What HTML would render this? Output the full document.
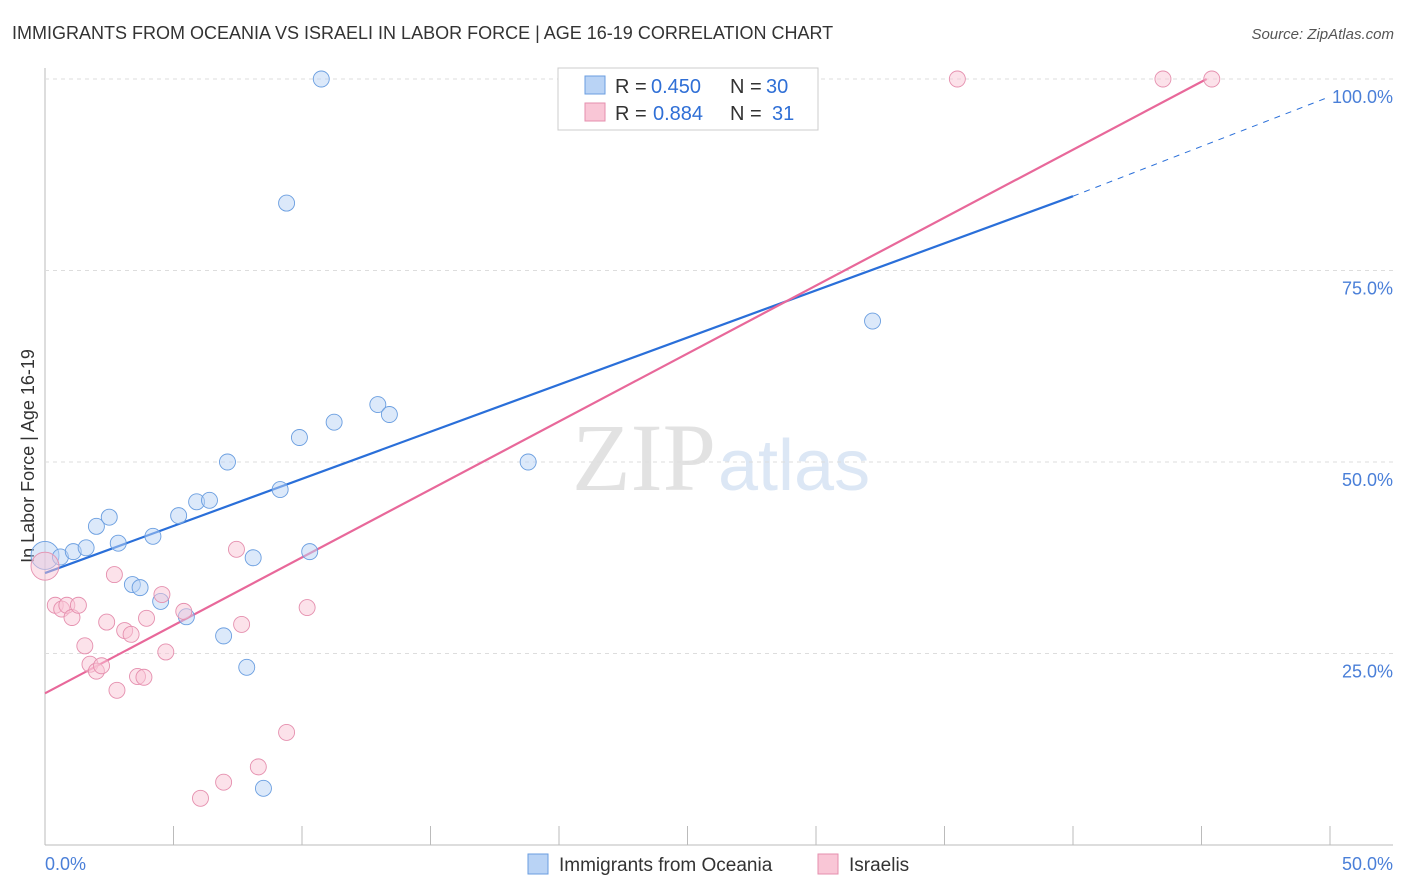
<!DOCTYPE html>
<html><head><meta charset="utf-8"><style>
body{margin:0;background:#fff;font-family:"Liberation Sans",sans-serif;}
#wrap{position:relative;width:1406px;height:892px;overflow:hidden;}
</style></head><body>
<div id="wrap">
<svg id="svg" width="1406" height="892" xmlns="http://www.w3.org/2000/svg">
<text x="12" y="39" font-size="18" fill="#333">IMMIGRANTS FROM OCEANIA VS ISRAELI IN LABOR FORCE | AGE 16-19 CORRELATION CHART</text>
<text x="1394" y="39" font-size="15" fill="#555" font-style="italic" text-anchor="end">Source: ZipAtlas.com</text>
<text x="0" y="0" transform="translate(34,456) rotate(-90)" font-size="18" fill="#333" text-anchor="middle">In Labor Force | Age 16-19</text>
<text x="716" y="490" font-size="96" fill="#e2e2e2" text-anchor="end" font-family="Liberation Serif,serif">ZIP</text>
<text x="718" y="490" font-size="72" fill="#dce7f5">atlas</text>
<g id="grid"></g><g id="lines"></g><g id="pts"></g>
<g>
<rect x="558" y="68" width="260" height="62" fill="#fff" stroke="#ccc"/>
<rect x="585" y="76" width="20" height="18" fill="#b9d3f5" stroke="#6a9ee0"/>
<text x="615" y="93" font-size="20" fill="#333">R =</text>
<text x="651" y="93" font-size="20" fill="#2f6fd6">0.450</text>
<text x="730" y="93" font-size="20" fill="#333">N =</text>
<text x="766" y="93" font-size="20" fill="#2f6fd6">30</text>
<rect x="585" y="103" width="20" height="18" fill="#f9c6d6" stroke="#e58fae"/>
<text x="615" y="120" font-size="20" fill="#333">R =</text>
<text x="653" y="120" font-size="20" fill="#2f6fd6">0.884</text>
<text x="730" y="120" font-size="20" fill="#333">N =</text>
<text x="772" y="120" font-size="20" fill="#2f6fd6">31</text>
</g>
<g>
<rect x="528" y="854" width="20" height="20" fill="#b9d3f5" stroke="#6a9ee0"/>
<text x="559" y="871" font-size="19" fill="#333">Immigrants from Oceania</text>
<rect x="818" y="854" width="20" height="20" fill="#f9c6d6" stroke="#e58fae"/>
<text x="849" y="871" font-size="19" fill="#333">Israelis</text>
</g>
<text x="45" y="870" font-size="18" fill="#4a7fd8">0.0%</text>
<text x="1393" y="870" font-size="18" fill="#4a7fd8" text-anchor="end">50.0%</text>
</svg></div>
<script>
const yTicks=[25,50,75,100];
const blueX=[0,0.6,1.1,1.6,2,2.5,2.85,3.4,3.7,4.2,4.5,5.2,5.5,5.9,6.4,6.95,7.1,7.85,8.1,8.5,9.15,9.4,9.9,10.3,10.75,11.25,12.95,13.4,18.8,32.2];
const blueY=[37.8,37.6,38.3,38.8,41.6,42.8,39.4,34,33.6,40.3,31.8,43,29.8,44.8,45,27.3,50,23.2,37.5,7.4,46.4,83.8,53.2,38.3,100,55.2,57.5,56.2,50,68.4];
const pinkX=[0,0.4,0.65,0.85,1.05,1.3,1.55,1.75,2,2.2,2.4,2.7,2.8,3.1,3.35,3.6,3.85,3.95,4.55,4.7,5.4,6.05,6.95,7.45,7.65,8.3,9.4,10.2,35.5,43.5,45.4];
const pinkY=[36.4,31.3,30.8,31.3,29.7,31.3,26,23.6,22.7,23.4,29.1,35.3,20.2,28,27.5,22,21.9,29.6,32.7,25.2,30.5,6.1,8.2,38.6,28.8,10.2,14.7,31,100,100,100];
const blueLine=[[0,35.5],[40,84.7]], blueDash=[[40,84.7],[50,97.7]], pinkLine=[[0,19.8],[45.2,100]];
const X=v=>45+v*25.7, Y=v=>845-v*7.66;
const NS="http://www.w3.org/2000/svg";
function mk(t,a,p){const e=document.createElementNS(NS,t);for(const k in a)e.setAttribute(k,a[k]);document.getElementById(p).appendChild(e);return e;}
const ax=mk('line',{x1:45,y1:845,x2:1393,y2:845,stroke:'#bbb'},'grid');


const ay=mk('line',{x1:45,y1:68,x2:45,y2:845,stroke:'#bbb'},'grid');


for(let i=0;i<=10;i++){const t=mk('line',{x1:X(i*5),y1:826,x2:X(i*5),y2:845,stroke:'#bbb'},'grid');

}
yTicks.forEach(v=>{const g=mk('line',{x1:45,y1:Y(v),x2:1393,y2:Y(v),stroke:'#ddd','stroke-dasharray':'4,4'},'grid');


const t=mk('text',{x:1393,y:Y(v)+24,'font-size':18,fill:'#4a7fd8','text-anchor':'end'},'grid');t.textContent=v.toFixed(1)+'%';

});
function ln(d,c,w,dash,name){const l=mk('line',{x1:X(d[0][0]),y1:Y(d[0][1]),x2:X(d[1][0]),y2:Y(d[1][1]),stroke:c,'stroke-width':w},'lines');if(dash)l.setAttribute('stroke-dasharray',dash);

}
ln(blueLine,'#2a6fd9',2.2,null,'trend-oceania');
ln(blueDash,'#2a6fd9',1,'6,6','trend-oceania-extension');
ln(pinkLine,'#e8689a',2.2,null,'trend-israelis');
function pts(xs,ys,f,s,name){xs.forEach((x,i)=>{const c=mk('circle',{cx:X(x),cy:Y(ys[i]),r:i==0?14:8,fill:f,'fill-opacity':0.5,stroke:s,'stroke-width':0.9},'pts');

});}
pts(blueX,blueY,'#b9d3f5','#6a9ee0','point-oceania');
pts(pinkX,pinkY,'#f9c6d6','#e58fae','point-israelis');
</script>
</body></html>
